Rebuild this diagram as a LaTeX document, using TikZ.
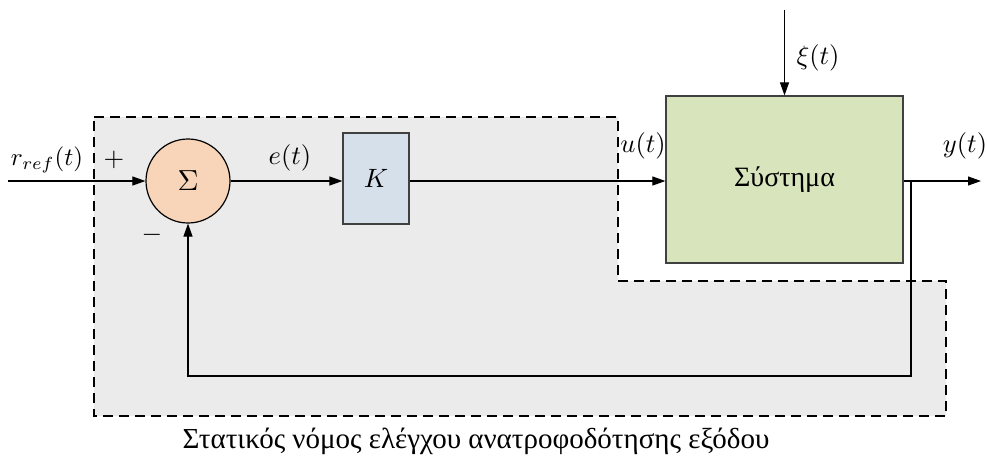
\documentclass[tikz,border=0pt]{standalone}
\usepackage{graphicx}
\usepackage{fontspec}
\setmainfont{Liberation Serif}
\usetikzlibrary{arrows.meta}
\definecolor{regionfill}{HTML}{EBEBEB}
\definecolor{sumfill}{HTML}{F8D5B8}
\definecolor{kfill}{HTML}{D6E0EA}
\definecolor{sysfill}{HTML}{D7E4BC}
\definecolor{boxline}{HTML}{404040}
\newcommand{\mlbl}[2]{\scalebox{#1}{\fontsize{10}{12}\selectfont$#2$}}
\tikzset{
  sig/.style={line width=1.1pt,-{Triangle[length=13pt,width=9pt]}},
  region/.style={fill=regionfill,draw=black,line width=1.8pt,dash pattern=on 10pt off 6pt},
  blk/.style={draw=boxline,line width=1.2pt,inner sep=0pt},
  lbl/.style={inner sep=0pt},
}
\begin{document}
\begin{tikzpicture}[x=1pt,y=-1pt]
\useasboundingbox (0,0) rectangle (987,467);
% dashed controller region
\path[region] (94,117) -- (618,117) -- (618,281) -- (946,281) -- (946,416) -- (94,416) -- cycle;
% blocks
\node[blk,circle,draw=black,fill=sumfill,minimum size=84pt] (sum) at (188,181) {\mlbl{2.9}{\Sigma}};
\node[blk,fill=kfill,minimum width=66pt,minimum height=91pt] (K) at (376,178.5) {\mlbl{2.65}{K}};
\node[blk,fill=sysfill,minimum width=237pt,minimum height=167pt] (sys) at (784.5,179.5) {\fontsize{28}{32}\selectfont Σύστημα};
% free ends
\coordinate (in) at (8,181);
\coordinate (xi) at (784.5,10);
\coordinate (out) at (981,181);
\coordinate (fb) at (911,181);
\coordinate (fbl) at (911,376);
% connectors
\draw[sig] (in) -- (sum.west);
\draw[sig] (sum.east) -- (K.west |- sum.east);
\draw[sig] (K.east |- sum.east) -- (sys.west |- sum.east);
\draw[sig] (xi) -- (sys.north);
\draw[sig] (sys.east |- out) -- (out);
\draw[sig] (fb) -- (fbl) -| (sum.south);
% labels
\node[lbl] (lr) at (47,160) {\mlbl{2.5}{r_{ref}(t)}};
\node[lbl] (lp) at (114,160) {\mlbl{2.65}{+}};
\node[lbl] (lm) at (152,235) {\mlbl{2.65}{-}};
\node[lbl] (le) at (290,158) {\mlbl{2.65}{e(t)}};
\node[lbl] (lu) at (643,146) {\mlbl{2.65}{u(t)}};
\node[lbl] (ly) at (965,146) {\mlbl{2.65}{y(t)}};
\node[lbl] (lxi) at (818,58) {\mlbl{2.65}{\xi(t)}};
\node[lbl,font=\fontsize{29}{33}\selectfont] (cap) at (476,441) {Στατικός νόμος ελέγχου ανατροφοδότησης εξόδου};
\end{tikzpicture}
\end{document}
